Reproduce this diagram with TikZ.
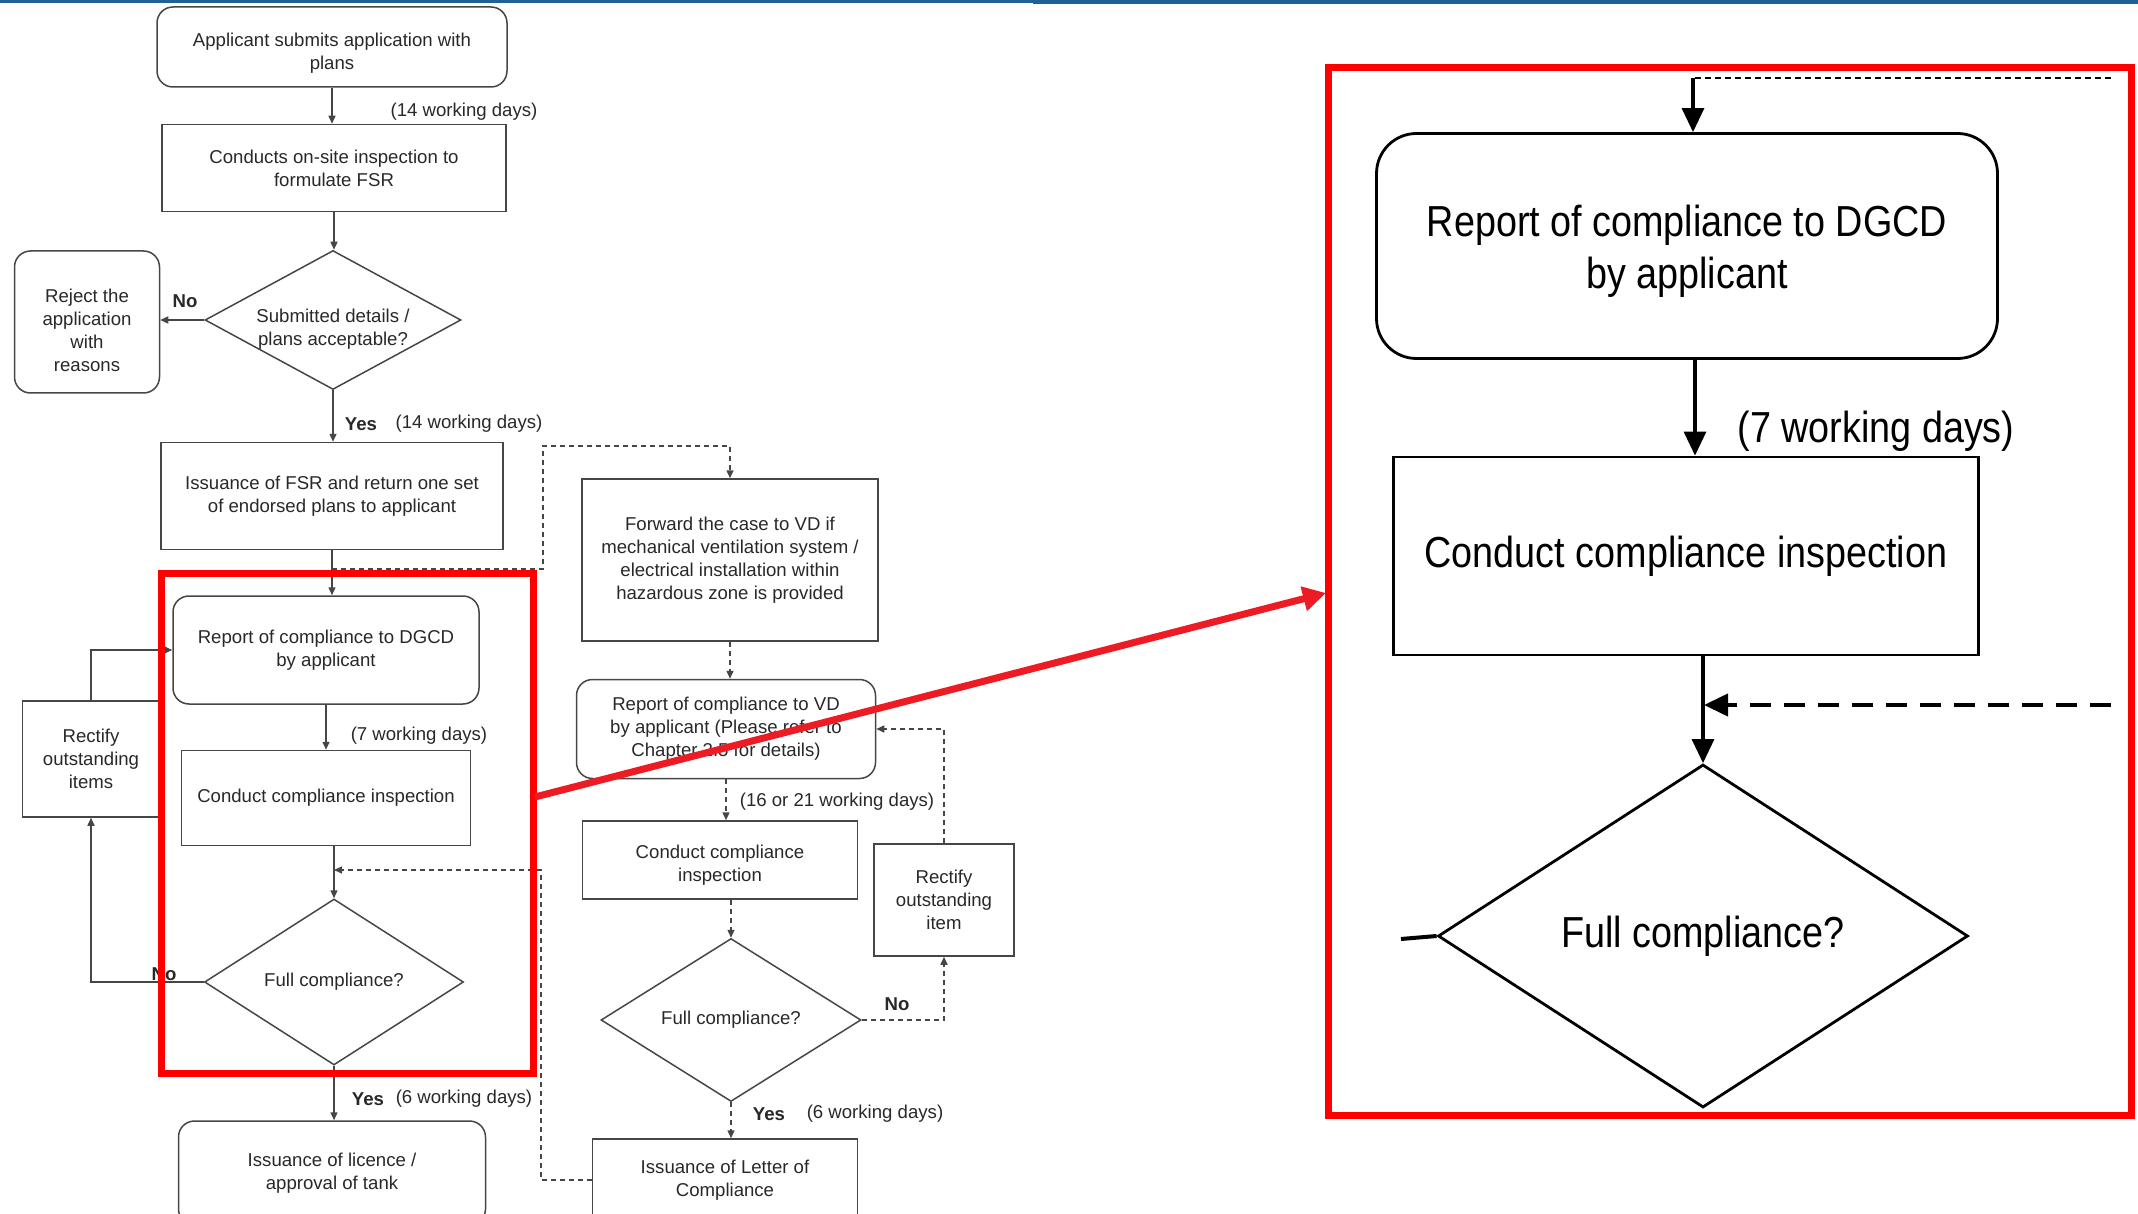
\documentclass[tikz,border=0pt]{standalone}
\usepackage{fontspec}
\usetikzlibrary{arrows.meta,shapes.geometric}
\newfontfamily\chartsf{Liberation Sans}
\newfontfamily\zoomsf[FakeStretch=0.87]{Liberation Sans}
\definecolor{chartgray}{RGB}{70,70,70}
\definecolor{charttext}{RGB}{40,40,40}
\definecolor{slideblue}{RGB}{31,97,148}
\definecolor{arrowred}{RGB}{237,28,36}

\tikzset{every picture/.style={line width=0.75pt}}
\tikzset{
  chartbox/.style={draw=chartgray, text=charttext, font=\chartsf\fontsize{9.3pt}{11.5pt}\selectfont, align=center, inner sep=1pt},
  chartround/.style={chartbox, rounded corners=8pt},
  chartdiamond/.style={chartbox, diamond, inner sep=0pt},
  chartarrow/.style={draw=chartgray, -{Triangle[length=4pt,width=3.5pt]}},
  chartdashed/.style={chartarrow, dash pattern=on 2.5pt off 2pt},
  chartlabel/.style={text=charttext, font=\chartsf\fontsize{9.3pt}{11.5pt}\selectfont, inner sep=0pt, align=center},
  chartyesno/.style={chartlabel, font=\chartsf\bfseries\fontsize{9.3pt}{11.5pt}\selectfont},
  zoombox/.style={draw=black, line width=1.4pt, font=\zoomsf\fontsize{21.7pt}{26pt}\selectfont, align=center, inner sep=2pt},
  zoomarrow/.style={line width=1.6pt, -{Triangle[length=12pt,width=11pt]}},
  redframe/.style={draw=red, line width=3.5pt},
}

\begin{document}
\begin{tikzpicture}[x=0.5pt,y=0.5pt,yscale=-1,xscale=1]
\useasboundingbox (0,0) rectangle (2138,1214);
\clip (0,0) rectangle (2138,1214);

%Slide header line
\fill [slideblue] (0,0) rectangle (1033,3);
\fill [slideblue] (1033,0) rectangle (2138,4.5);

%Left column
\node (apply) [chartround, minimum width=175pt, minimum height=40pt] at (332,47) {};
\node (applytext) [chartlabel] at (332,53) {Applicant submits application with\\plans};
\node (onsite) [chartbox, minimum width=172pt, minimum height=43.5pt] at (334,168) {Conducts on-site inspection to\\formulate FSR};
\node (plansok) [chartdiamond, minimum width=128pt, minimum height=69.5pt] at (333,320) {};
\node (plansoktext) [chartlabel] at (333,329) {Submitted details /\\plans acceptable?};
\node (reject) [chartround, minimum width=72.5pt, minimum height=71pt] at (87,322) {};
\node (rejecttext) [chartlabel] at (87,330) {Reject the\\application\\with\\reasons};
\node (fsr) [chartbox, minimum width=171pt, minimum height=53.5pt] at (332,496) {Issuance of FSR and return one set\\of endorsed plans to applicant};
\node (dgcd) [chartround, minimum width=153pt, minimum height=54pt] at (326,650) {Report of compliance to DGCD\\by applicant};
\node (inspect) [chartbox, minimum width=144.5pt, minimum height=47.5pt] at (326,798) {Conduct compliance inspection};
\node (fullok) [chartdiamond, aspect=1.56, minimum width=129.5pt, minimum height=83pt] at (334,982) {Full compliance?};
\node (rectify) [chartbox, minimum width=68.5pt, minimum height=58pt] at (91,759) {Rectify\\outstanding\\items};
\node (licence) [chartround, minimum width=153.5pt, minimum height=52pt] at (332,1173) {Issuance of licence /\\approval of tank};

%Middle column
\node (forward) [chartbox, minimum width=148pt, minimum height=81pt] at (730,560) {Forward the case to VD if\\mechanical ventilation system /\\electrical installation within\\hazardous zone is provided};
\node (vdreport) [chartround, minimum width=149.5pt, minimum height=49.5pt] at (726,729) {Report of compliance to VD\\by applicant (Please refer to\\Chapter 2.5 for details)};
\node (vdinspect) [chartbox, minimum width=137.5pt, minimum height=39pt] at (720,860) {};
\node (vdinspecttext) [chartlabel] at (720,865) {Conduct compliance\\inspection};
\node (vdfull) [chartdiamond, aspect=1.6, minimum width=130pt, minimum height=81.5pt] at (731,1020) {Full compliance?};
\node (vdrectify) [chartbox, minimum width=70pt, minimum height=56pt] at (944,900) {Rectify\\outstanding\\item};
\node (letter) [chartbox, minimum width=132.5pt, minimum height=41pt] at (725,1180) {Issuance of Letter of\\Compliance};

%Left column connectors
\draw [chartarrow] (apply.south) -- (apply.south |- onsite.north);
\draw [chartarrow] (onsite.south) -- (onsite.south |- plansok.north);
\draw [chartarrow] (plansok.west) -- (plansok.west -| reject.east);
\draw [chartarrow] (plansok.south) -- (plansok.south |- fsr.north);
\draw [chartarrow] (fsr.south) -- (fsr.south |- dgcd.north);
\draw [chartarrow] (dgcd.south) -- (dgcd.south |- inspect.north);
\draw [chartarrow] (inspect.south -| fullok.north) -- (fullok.north);
\draw [chartarrow] (fullok.west) -| (rectify.south);
\draw [chartarrow] (rectify.north) |- (dgcd.west);
\draw [chartarrow] (fullok.south) -- (fullok.south |- licence.north);
\coordinate (vdsplit) at (332,569);
\coordinate (vdturn) at (543,446);
\draw [chartdashed] (vdsplit) -| (vdturn) -| (forward.north);
\coordinate (letturn) at (541,870);
\coordinate (letjoin) at (334,870);
\draw [chartdashed] (letter.west) -| (letturn) -- (letjoin);

%Middle column connectors
\draw [chartdashed] (forward.south) -- (forward.south |- vdreport.north);
\draw [chartdashed] (vdreport.south) -- (vdreport.south |- vdinspect.north);
\draw [chartdashed] (vdfull.north |- vdinspect.south) -- (vdfull.north);
\draw [chartdashed] (vdfull.east) -| (vdrectify.south);
\draw [chartdashed] (vdrectify.north) |- (vdreport.east);
\draw [chartdashed] (vdfull.south) -- (vdfull.south |- letter.north);

% Text Node
\node (d14a) [chartlabel] at (464,112) {(14 working days)};
\node (no1) [chartyesno] at (185,301) {No};
\node (yes1) [chartyesno] at (361,424) {Yes};
\node (d14b) [chartlabel] at (469,424) {(14 working days)};
\node (d7) [chartlabel] at (419,736) {(7 working days)};
\node (no2) [chartyesno] at (164,974) {No};
\node (yes2) [chartyesno] at (368,1099) {Yes};
\node (d6a) [chartlabel] at (464,1099) {(6 working days)};
\node (d1621) [chartlabel] at (837,802) {(16 or 21 working days)};
\node (no3) [chartyesno] at (897,1004) {No};
\node (yes3) [chartyesno] at (769,1114) {Yes};
\node (d6b) [chartlabel] at (875,1114) {(6 working days)};

%Red frames and pointer
\draw [redframe] (161,573) rectangle (533,1073);
\draw [redframe] (1328,68) rectangle (2131,1115);
\coordinate (zoomfrom) at (535,797);
\coordinate (zoomto) at (1326,593);
\draw [arrowred, line width=3.5pt, -{Triangle[length=11.5pt,width=12pt]}] (zoomfrom) -- (zoomto);

%Enlarged part
\node (zrep) [zoombox, rounded corners=20pt, minimum width=310.5pt, minimum height=112.5pt] at (1687,246) {};
\node (zreptext) [zoombox, draw=none, inner sep=0pt] at (1687,251) {Report of compliance to DGCD\\by applicant};
\node (zcon) [zoombox, minimum width=292.5pt, minimum height=99pt] at (1686,556) {Conduct compliance inspection};
\node (zdia) [zoombox, diamond, aspect=1.55, inner sep=0pt, minimum width=265pt, minimum height=171.5pt] at (1703,936) {Full compliance?};
\coordinate (ztopright) at (2111,78);
\coordinate (ztopturn) at (1693,78);
\draw [line width=0.9pt, dash pattern=on 3pt off 2pt] (ztopright) -- (ztopturn);
\draw [zoomarrow] (ztopturn) -- (ztopturn |- zrep.north);
\draw [zoomarrow] ([xshift=4pt]zrep.south) -- ([xshift=4pt]zrep.south |- zcon.north);
\draw [zoomarrow] (zdia.north |- zcon.south) -- (zdia.north);
\coordinate (zdashstart) at (2111,705);
\coordinate (zdashend) at (1704,705);
\draw [zoomarrow, line width=2pt, dash pattern=on 10.5pt off 6.5pt] (zdashstart) -- (zdashend);
\coordinate (zstub) at (1401,939);
\draw [line width=2pt] (zstub) -- (zdia.west);
% Text Node
\node (zd7) [font=\zoomsf\fontsize{21.7pt}{26pt}\selectfont, inner sep=0pt] at (1876,431) {(7 working days)};

\end{tikzpicture}
\end{document}
